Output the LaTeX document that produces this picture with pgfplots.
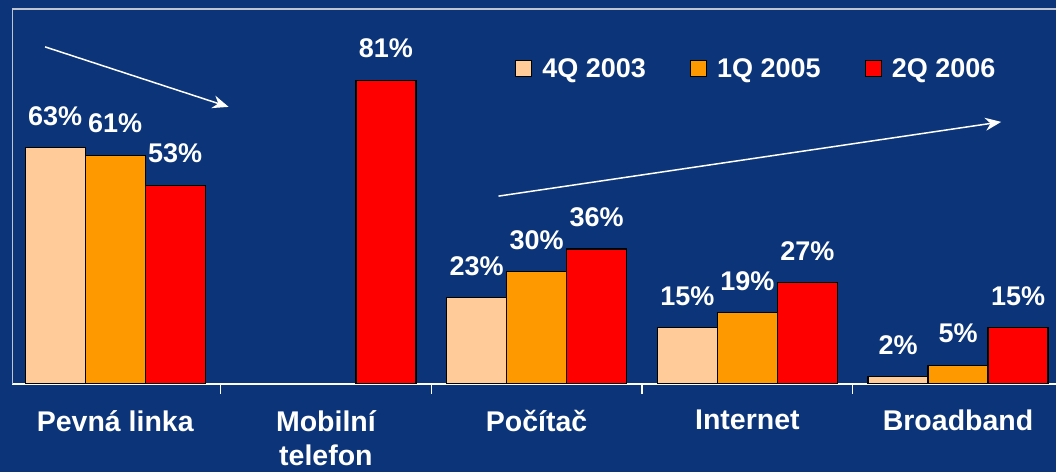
\documentclass[border=0pt]{standalone}
\usepackage{pgfplots}
\pgfplotsset{compat=1.18}
\usepackage{fontspec}
\setmainfont{Liberation Sans}
\usetikzlibrary{arrows.meta}
\definecolor{bg}{RGB}{12,52,120}
\definecolor{cA}{RGB}{255,204,153}
\definecolor{cB}{RGB}{255,153,0}
\definecolor{cC}{RGB}{255,0,0}
\definecolor{frame}{RGB}{190,196,208}
\newcommand\lf{\fontsize{28.5bp}{34bp}\selectfont\bfseries}
\newcommand\vf{\fontsize{27bp}{32bp}\selectfont\bfseries}
\pgfplotsset{sqleg/.style={legend image code/.code={\draw[fill=#1,draw=black,line width=1.2bp] (0bp,-8bp) rectangle (16bp,8bp);}}}
\begin{document}
\begin{tikzpicture}
\fill[bg] (0,0) rectangle (1056bp,472bp);
\useasboundingbox (0,0) rectangle (1056bp,472bp);
\begin{axis}[
  at={(12bp,88bp)}, anchor=south west,
  width=1044bp, height=375bp, scale only axis,
  xmin=-0.49, xmax=4.465, ymin=0, ymax=100,
  ybar=0pt, bar width=60bp,
  axis x line*=bottom, axis y line=none,
  x axis line style={white, line width=1.6bp},
  ytick=\empty,
  xtick={0,1,2,3,4},
  xticklabels={Pevná linka, {Mobilní\\telefon}, Počítač, Internet, Broadband},
  minor xtick={0.5,1.5,2.5,3.5},
  major tick length=0pt, minor tick length=10bp,
  tick align=outside,
  minor tick style={white, line width=1.2bp},
  xticklabel style={font=\lf, text=white, align=center, inner sep=0pt, yshift=-26bp},
  /pgf/number format/assume math mode=true,
  nodes near coords={\pgfmathprintnumber{\pgfplotspointmeta}\%},
  every node near coord/.append style={font=\vf, text=white, yshift=18bp},
  legend columns=3,
  legend style={draw=none, fill=none, at={(0.4818,0.841)}, anchor=west,
    font=\vf, text=white, inner sep=0pt,
    /tikz/every odd column/.append style={column sep=8bp},
    /tikz/every even column/.append style={column sep=42bp}},
]
\addplot[fill=cA, draw=black, line width=1.4bp, sqleg=cA] coordinates {(0,63) (2,23) (3,15) (4,2)};
\addplot[fill=cB, draw=black, line width=1.4bp, sqleg=cB] coordinates {(0,61) (2,30) (3,19) (4,5)};
\addplot[fill=cC, draw=black, line width=1.4bp, sqleg=cC] coordinates {(0,53) (1,81) (2,36) (3,27) (4,15)};
\legend{4Q 2003, 1Q 2005, 2Q 2006}
\draw[white, line width=1.5bp, -{Stealth[length=16bp,width=13bp]}] (axis cs:-0.333,89.9) -- (axis cs:0.538,73.9);
\draw[white, line width=1.5bp, -{Stealth[length=16bp,width=13bp]}] (axis cs:1.819,50.1) -- (axis cs:4.205,69.9);
\draw[frame, line width=1.6bp] ([yshift=-10bp]rel axis cs:0,0) -- (rel axis cs:0,1) -- (rel axis cs:1,1);
\end{axis}
\end{tikzpicture}
\end{document}
